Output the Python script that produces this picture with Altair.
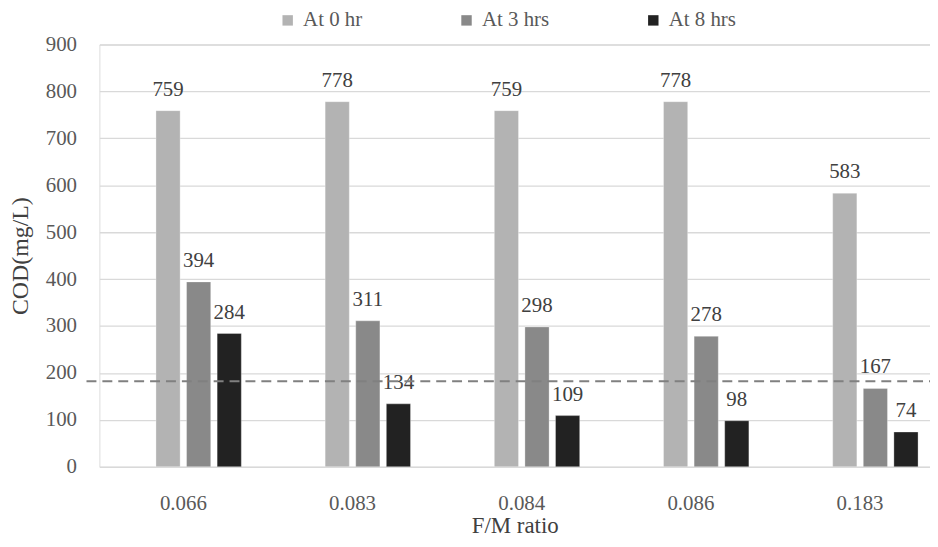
import altair as alt
import pandas as pd

categories = ["0.066", "0.083", "0.084", "0.086", "0.183"]
series = ["At 0 hr", "At 3 hrs", "At 8 hrs"]
at_0hr = [759, 778, 759, 778, 583]
at_3hrs = [394, 311, 298, 278, 167]
at_8hrs = [284, 134, 109, 98, 74]
threshold = [182]
y_ticks = [0, 100, 200, 300, 400, 500, 600, 700, 800, 900]

rows = []
for i, c in enumerate(categories):
    for s, vals in zip(series, [at_0hr, at_3hrs, at_8hrs]):
        rows.append({"ratio": c, "series": s, "cod": vals[i]})
df = pd.DataFrame(rows)

FONT = "'Liberation Serif', 'Times New Roman', Times, 'DejaVu Serif', serif"
W, H = 836, 425
YTITLE = "COD(mg/L)"

x_scale = alt.Scale(domain=categories, paddingInner=0.3146, paddingOuter=0.112,
                    align=0.685, round=False)
off_scale = alt.Scale(domain=["slot"] + series, paddingInner=0.21, paddingOuter=0, round=False)
y_scale = alt.Scale(domain=[0, 900])
color_scale = alt.Scale(domain=series, range=["#b3b3b3", "#898989", "#222222"])

x_enc = alt.X("ratio:N", scale=x_scale, sort=categories,
              axis=alt.Axis(title="F/M ratio", labelAngle=0, domain=False, ticks=False,
                            grid=False, labelPadding=26, titlePadding=1,
                            labelFontSize=21, titleFontSize=23, labelFont=FONT, titleFont=FONT,
                            labelColor="#595959", titleColor="#404040", titleFontWeight="normal"))
y_enc = alt.Y("cod:Q", scale=y_scale, title=YTITLE,
              axis=alt.Axis(values=y_ticks, domain=False, ticks=False, gridColor="#d9d9d9",
                            gridWidth=1.3, labelPadding=23, titlePadding=13,
                            labelFontSize=21, titleFontSize=24, labelFont=FONT, titleFont=FONT,
                            labelColor="#595959", titleColor="#404040", titleFontWeight="normal"))

base = alt.Chart(df).encode(
    x=x_enc,
    xOffset=alt.XOffset("series:N", scale=off_scale),
    y=y_enc,
)

bars = base.mark_bar(stroke="#ffffff", strokeWidth=0.6, strokeOpacity=0.5).encode(
    color=alt.Color("series:N", scale=color_scale,
                    legend=alt.Legend(title=None, orient="none", legendX=179, legendY=-35,
                                      direction="horizontal", columns=3, columnPadding=94,
                                      symbolType="square", symbolSize=110, symbolStrokeWidth=0,
                                      labelFontSize=21, labelFont=FONT, labelColor="#595959",
                                      labelOffset=5, padding=0))
)

labels = base.mark_text(baseline="alphabetic", dy=-15, font=FONT, fontSize=21,
                        color="#404040").encode(text="cod:Q")

rule = alt.Chart(pd.DataFrame({"v": threshold})).mark_rule(
    strokeDash=[10, 6], color="#808080", strokeWidth=2
).encode(
    y=alt.Y("v:Q", scale=y_scale, title=YTITLE),
    x=alt.value(-13),
    x2=alt.value(W),
)

chart = alt.layer(bars, labels, rule).properties(
    width=W, height=H,
    padding={"left": 92, "top": 35, "right": 0, "bottom": 71},
    autosize=alt.AutoSizeParams(type="none"),
).configure_view(stroke=None).configure(background="#ffffff", font=FONT)

chart.save("out.html", embed_options={"renderer": "svg", "actions": False})
